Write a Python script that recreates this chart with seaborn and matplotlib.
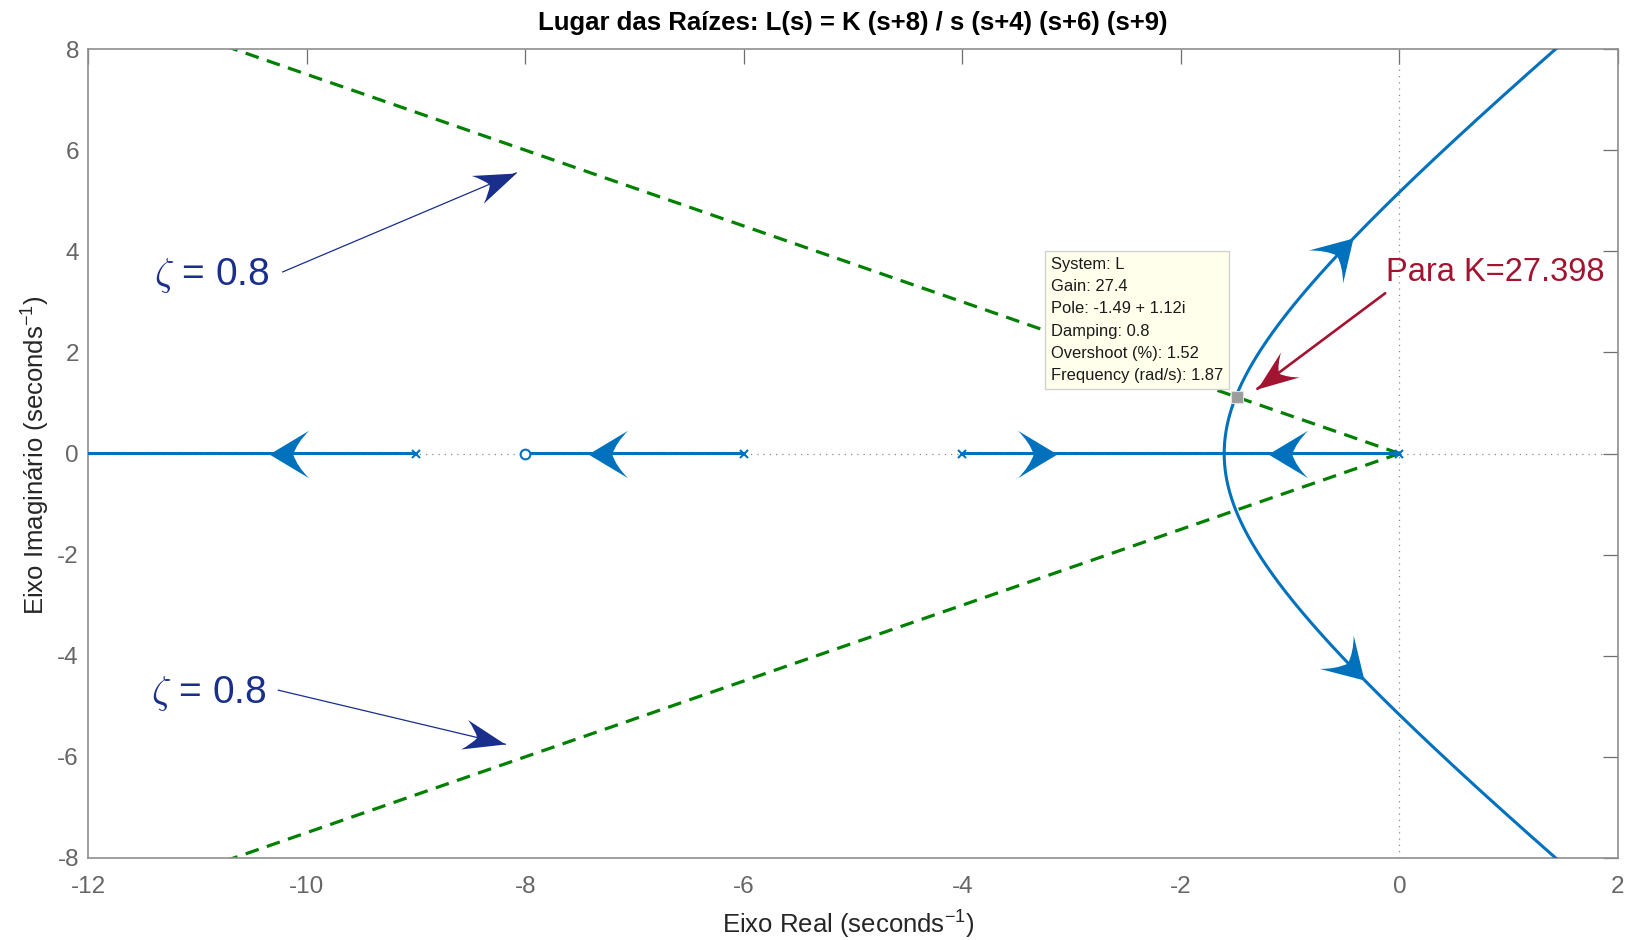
import itertools

import numpy as np
import pandas as pd
import matplotlib
matplotlib.use("Agg")
import matplotlib.pyplot as plt
from matplotlib.path import Path
from matplotlib.markers import MarkerStyle
from matplotlib.transforms import Affine2D
import seaborn as sns

# ---------------------------------------------------------------------------
# Open-loop transfer function  L(s) = K (s+8) / [ s (s+4) (s+6) (s+9) ]
# ---------------------------------------------------------------------------
open_loop_poles = [0.0, -4.0, -6.0, -9.0]
open_loop_zeros = [-8.0]

# damping-ratio reference line
zeta_value = 0.8

# selected closed-loop pole (data tip)
tip_gain = 27.398
tip_pole = (-1.49, 1.12)
tip_lines = [
    "System: L",
    "Gain: 27.4",
    "Pole: -1.49 + 1.12i",
    "Damping: 0.8",
    "Overshoot (%): 1.52",
    "Frequency (rad/s): 1.87",
]

# direction arrows along the branches: branch name and gain where they sit
arrow_branches = ["-9", "-6", "-4", "0", "upper", "lower"]
arrow_gains = [164.0, 100.0, 9.4, 18.5, 184.0, 207.0]

# axis ticks
x_ticks = [-12, -10, -8, -6, -4, -2, 0, 2]
y_ticks = [-8, -6, -4, -2, 0, 2, 4, 6, 8]

# annotation placement (data units)
zeta_text_pos = [(-11.40, 3.53), (-11.42, -4.74)]
zeta_arrow_tail = [(-10.22, 3.59), (-10.26, -4.68)]
zeta_arrow_tip = [(-8.08, 5.55), (-8.18, -5.75)]
gain_text_pos = (-0.12, 3.57)
gain_arrow_tail = (-0.13, 3.17)
gain_arrow_tip = (-1.30, 1.28)

LOCUS_BLUE = "#0072BD"
ZETA_GREEN = "#008000"
NOTE_BLUE = "#1a2e8c"
NOTE_RED = "#A2142F"

# ---------------------------------------------------------------------------
# Root locus: roots of den(s) + K num(s) for increasing K, tracked per branch
# ---------------------------------------------------------------------------
den = np.poly(open_loop_poles)
num = np.poly(open_loop_zeros)

# breakaway points: den' num - den num' = 0, refine the gain grid around them
bpoly = np.polysub(np.polymul(np.polyder(den), num), np.polymul(den, np.polyder(num)))
brk = np.roots(bpoly)
brk = brk[np.abs(brk.imag) < 1e-9].real
k_brk = -np.polyval(den, brk) / np.polyval(num, brk)
k_brk = k_brk[k_brk > 0]

gain_grid = [np.array([0.0]), np.logspace(-3, 4, 6000), np.array(arrow_gains)]
for kb in k_brk:
    gain_grid.append(np.linspace(kb * 0.97, kb * 1.03, 1500))
    gain_grid.append(np.array([kb]))
gains = np.unique(np.concatenate(gain_grid))

perms = np.array(list(itertools.permutations(range(len(open_loop_poles)))))
roots = np.empty((len(gains), len(open_loop_poles)), dtype=complex)
prev = np.array(open_loop_poles, dtype=complex)
for i, k in enumerate(gains):
    r = np.roots(np.polyadd(den, k * num))
    cost = np.abs(r[perms] - prev[None, :]).sum(axis=1)
    r = r[perms[np.argmin(cost)]]
    roots[i] = r
    prev = r

branch_names = {}
for j, p in enumerate(open_loop_poles):
    branch_names[f"{p:g}"] = j
final_imag = roots[-1].imag
branch_names["upper"] = int(np.argmax(final_imag))
branch_names["lower"] = int(np.argmin(final_imag))

locus_df = pd.concat(
    [
        pd.DataFrame({"re": roots[:, j].real, "im": roots[:, j].imag, "branch": j,
                      "order": np.arange(len(gains))})
        for j in range(len(open_loop_poles))
    ],
    ignore_index=True,
)

# ---------------------------------------------------------------------------
# Styling
# ---------------------------------------------------------------------------
sns.set_theme(style="white")
plt.rcParams["font.family"] = ["Liberation Sans", "DejaVu Sans"]
plt.rcParams["axes.unicode_minus"] = False
plt.rcParams["mathtext.fontset"] = "custom"
plt.rcParams["mathtext.rm"] = "Liberation Sans"
plt.rcParams["mathtext.it"] = "Liberation Sans:italic"
plt.rcParams["mathtext.bf"] = "Liberation Sans:bold"

fig = plt.figure(figsize=(16.29, 9.40), dpi=100)
ax = fig.add_axes([88 / 1629, 1 - 858 / 940, 1530 / 1629, 809 / 940])
ax.set_xlim(-12, 2)
ax.set_ylim(-8, 8)


def head_marker(w, n):
    """Concave arrow head with its tip at the origin, pointing along +x."""
    verts = [(0, 0), (-1, w), (-n - 0.1, 0.5 * w), (-n, 0), (-n - 0.1, -0.5 * w),
             (-1, -w), (0, 0), (0, 0)]
    codes = [Path.MOVETO, Path.LINETO, Path.CURVE3, Path.CURVE3, Path.CURVE3,
             Path.CURVE3, Path.LINETO, Path.CLOSEPOLY]
    return Path(verts, codes)


def draw_head(point, direction, color, w, n, size, z=6):
    p0 = ax.transData.transform(point)
    p1 = ax.transData.transform((point[0] + direction[0], point[1] + direction[1]))
    ang = np.degrees(np.arctan2(p1[1] - p0[1], p1[0] - p0[0]))
    m = MarkerStyle(head_marker(w, n), transform=Affine2D().rotate_deg(ang))
    ax.plot([point[0]], [point[1]], linestyle="none", marker=m, markersize=size,
            color=color, markeredgewidth=0, zorder=z)


# zero lines
ax.axhline(0, color="#8c8c8c", lw=0.9, ls=(0, (1, 4)), zorder=1)
ax.axvline(0, color="#8c8c8c", lw=0.9, ls=(0, (1, 4)), zorder=1)

# constant damping rays
theta = np.arccos(zeta_value)
ray_r = np.array([0.0, 30.0])
for sgn in (1, -1):
    ax.plot(-ray_r * np.cos(theta), sgn * ray_r * np.sin(theta), color=ZETA_GREEN,
            lw=2.3, ls=(0, (4.3, 2.7)), zorder=2)

# locus branches
sns.lineplot(data=locus_df, x="re", y="im", units="branch", estimator=None, sort=False,
             color=LOCUS_BLUE, lw=2.2, legend=False, ax=ax, zorder=3)

# open-loop poles and zeros
ax.plot(open_loop_poles, np.zeros(len(open_loop_poles)), linestyle="none", marker="x",
        color=LOCUS_BLUE, ms=5.5, mew=1.5, zorder=4)
ax.plot(open_loop_zeros, np.zeros(len(open_loop_zeros)), linestyle="none", marker="o",
        mfc="white", mec=LOCUS_BLUE, ms=7, mew=1.5, zorder=4)

# direction arrows along the locus
for name, k in zip(arrow_branches, arrow_gains):
    j = branch_names[name]
    i = int(np.argmin(np.abs(gains - k)))
    pt = roots[i, j]
    d = roots[min(i + 1, len(gains) - 1), j] - roots[max(i - 1, 0), j]
    draw_head((pt.real, pt.imag), (d.real, d.imag), LOCUS_BLUE, 0.6, 0.6, 57, z=5)

# data tip
ax.plot([tip_pole[0]], [tip_pole[1]], linestyle="none", marker="s", ms=8,
        mfc="#9c9c9c", mec="#e0e0e0", mew=0.8, zorder=7)
ax.annotate("\n".join(tip_lines), xy=tip_pole, xytext=(-9.8, 10.0),
            textcoords="offset points", ha="right", va="bottom", multialignment="left",
            fontsize=11.9, linespacing=1.60, color="#1a1a1a", zorder=8,
            bbox=dict(boxstyle="square,pad=0.36", fc="#ffffeb", ec="#d2d2d2", lw=1.0))

# damping-ratio notes
for tpos, tail, tip in zip(zeta_text_pos, zeta_arrow_tail, zeta_arrow_tip):
    ax.text(tpos[0], tpos[1], r"$\zeta$ = " + f"{zeta_value:g}", fontsize=28,
            color=NOTE_BLUE, ha="left", va="center", math_fontfamily="cm", zorder=6)
    ax.plot([tail[0], tip[0]], [tail[1], tip[1]], color=NOTE_BLUE, lw=0.9, zorder=6)
    draw_head(tip, (tip[0] - tail[0], tip[1] - tail[1]), NOTE_BLUE, 0.36, 0.69, 60.5)

# gain note
ax.text(gain_text_pos[0], gain_text_pos[1], f"Para K={tip_gain:.3f}", fontsize=23.5,
        color=NOTE_RED, ha="left", va="center", zorder=6)
ax.plot([gain_arrow_tail[0], gain_arrow_tip[0]], [gain_arrow_tail[1], gain_arrow_tip[1]],
        color=NOTE_RED, lw=1.9, zorder=6)
draw_head(gain_arrow_tip, (gain_arrow_tip[0] - gain_arrow_tail[0],
                           gain_arrow_tip[1] - gain_arrow_tail[1]), NOTE_RED, 0.38, 0.65, 59)

# axes frame and ticks
ax.set_xticks(x_ticks)
ax.set_yticks(y_ticks)
ax.set_xticklabels([f"{v:g}" for v in x_ticks])
ax.set_yticklabels([f"{v:g}" for v in y_ticks])
for sp in ax.spines.values():
    sp.set_visible(True)
    sp.set_color("#8f8f8f")
    sp.set_linewidth(1.2)
ax.tick_params(axis="both", direction="in", length=11, width=0.9, color="#6e6e6e",
               labelcolor="#666666", labelsize=17.5, top=True, right=True)
ax.tick_params(axis="x", pad=13)
ax.tick_params(axis="y", pad=6.5)

ax.set_xlabel(r"Eixo Real (seconds$^{-1}$)", fontsize=18.5, color="#262626")
ax.set_ylabel(r"Eixo Imaginário (seconds$^{-1}$)", fontsize=18.5, color="#262626")
ax.xaxis.set_label_coords(0.497, -0.063)
ax.yaxis.set_label_coords(-0.0236, 0.498)
ax.set_title("Lugar das Raízes: L(s) = K (s+8) / s (s+4) (s+6) (s+9)",
             fontsize=18.5, fontweight="bold", color="black", pad=14)
ax.set_facecolor("white")

fig.savefig("out.png", dpi=100, facecolor="white")
